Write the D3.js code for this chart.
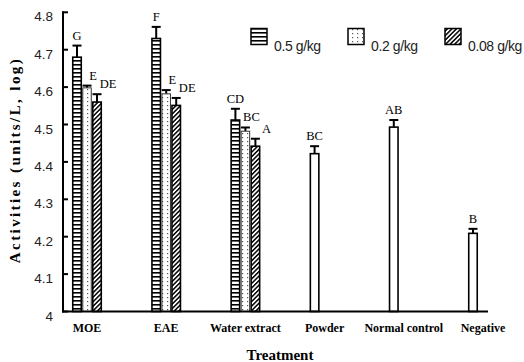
<!DOCTYPE html>
<html><head><meta charset="utf-8">
<script src="https://cdn.jsdelivr.net/npm/d3@7"></script>
<style>body{margin:0;background:#fff}svg{display:block}</style>
</head><body>
<script>
// ---- data ----
const categories = ["MOE", "EAE", "Water extract", "Powder", "Normal control", "Negative"];
const seriesNames = ["0.5 g/kg", "0.2 g/kg", "0.08 g/kg", "control"];
const values05  = [4.680, 4.730, 4.512, null, null, null];
const values02  = [4.598, 4.582, 4.482, null, null, null];
const values008 = [4.560, 4.551, 4.442, null, null, null];
const valuesSingle = [null, null, null, 4.422, 4.493, 4.209];
const err05  = [0.031, 0.031, 0.030, null, null, null];
const err02  = [0.006, 0.010, 0.010, null, null, null];
const err008 = [0.021, 0.020, 0.020, null, null, null];
const errSingle = [null, null, null, 0.020, 0.019, 0.012];
const letters05  = ["G", "F", "CD", null, null, null];
const letters02  = ["E", "E", "BC", null, null, null];
const letters008 = ["DE", "DE", "A", null, null, null];
const lettersSingle = [null, null, null, "BC", "AB", "B"];
const yTicks = [4, 4.1, 4.2, 4.3, 4.4, 4.5, 4.6, 4.7, 4.8];
const yTickLabels = ["4", "4.1", "4.2", "4.3", "4.4", "4.5", "4.6", "4.7", "4.8"];
const legendNames = ["0.5 g/kg", "0.2 g/kg", "0.08 g/kg"];

const W = 524, H = 362;
const svg = d3.select("body").append("svg").attr("width", W).attr("height", H);
const defs = svg.append("defs");

// patterns
const pStripe = defs.append("pattern").attr("id", "stripe").attr("patternUnits", "userSpaceOnUse")
  .attr("width", 10).attr("height", 4);
pStripe.append("rect").attr("width", 10).attr("height", 4).attr("fill", "#fff");
pStripe.append("rect").attr("y", 0).attr("width", 10).attr("height", 1.6).attr("fill", "#000");

const pDot = defs.append("pattern").attr("id", "dots").attr("patternUnits", "userSpaceOnUse")
  .attr("width", 5).attr("height", 4);
pDot.append("rect").attr("width", 5).attr("height", 4).attr("fill", "#fff");
pDot.append("rect").attr("x", 2).attr("y", 1).attr("width", 1.2).attr("height", 1.2).attr("fill", "#555");

const pHatch = defs.append("pattern").attr("id", "hatch").attr("patternUnits", "userSpaceOnUse")
  .attr("width", 3.2).attr("height", 3.2).attr("patternTransform", "rotate(45)");
pHatch.append("rect").attr("width", 3.2).attr("height", 3.2).attr("fill", "#fff");
pHatch.append("rect").attr("x", 0).attr("width", 1.5).attr("height", 3.2).attr("fill", "#000");

const fills = ["url(#stripe)", "url(#dots)", "url(#hatch)", "#fff"];

// scales
const x0 = 63, x1 = 488, yTop = 12.3, yBot = 311.5;
const y = d3.scaleLinear().domain([4, 4.8]).range([yBot, yTop]);
const xBand = d3.scaleBand().domain(categories).range([72, 498]).paddingInner(0.621).paddingOuter(0);
const xSlot = d3.scaleBand().domain([0, 1, 2]).range([0, xBand.bandwidth()]).padding(0);

const series = [
  {vals: values05, errs: err05, letters: letters05, slot: 0, dx: 0},
  {vals: values02, errs: err02, letters: letters02, slot: 1, dx: 6},
  {vals: values008, errs: err008, letters: letters008, slot: 2, dx: 11},
  {vals: valuesSingle, errs: errSingle, letters: lettersSingle, slot: 0, dx: 0}
];

const g = svg.append("g");
series.forEach((s, si) => {
  const data = categories.map((c, i) => ({c, v: s.vals[i], e: s.errs[i], l: s.letters[i]})).filter(d => d.v != null);
  const bw = xSlot.bandwidth();
  const gs = g.append("g");
  // error bars
  gs.selectAll("line.err").data(data).join("line")
    .attr("x1", d => xBand(d.c) + xSlot(s.slot) + bw / 2)
    .attr("x2", d => xBand(d.c) + xSlot(s.slot) + bw / 2)
    .attr("y1", d => y(d.v)).attr("y2", d => y(d.v + d.e))
    .attr("stroke", "#000").attr("stroke-width", 2);
  gs.selectAll("line.cap").data(data).join("line")
    .attr("x1", d => xBand(d.c) + xSlot(s.slot) + 0.5)
    .attr("x2", d => xBand(d.c) + xSlot(s.slot) + bw - 0.5)
    .attr("y1", d => y(d.v + d.e)).attr("y2", d => y(d.v + d.e))
    .attr("stroke", "#000").attr("stroke-width", 2);
  gs.selectAll("rect").data(data).join("rect")
    .attr("x", d => xBand(d.c) + xSlot(s.slot) + 0.75)
    .attr("y", d => y(d.v))
    .attr("width", bw - 1.5)
    .attr("height", d => yBot - y(d.v))
    .attr("fill", fills[si])
    .attr("stroke", si === 1 ? "#333" : "#000")
    .attr("stroke-width", si === 1 ? 1 : 1.6);
  gs.selectAll("text").data(data.filter(d => d.l)).join("text")
    .attr("x", d => xBand(d.c) + xSlot(s.slot) + bw / 2 + s.dx)
    .attr("y", d => y(d.v + d.e) - 6)
    .attr("text-anchor", "middle")
    .attr("font-family", "Liberation Serif, Times New Roman, serif")
    .attr("font-size", 12.5)
    .text(d => d.l);
});

// axes
const yAxis = svg.append("g");
yAxis.append("line").attr("x1", x0).attr("x2", x0).attr("y1", yTop - 1).attr("y2", yBot + 1)
  .attr("stroke", "#000").attr("stroke-width", 2);
yAxis.selectAll("line.tick").data(yTicks).join("line")
  .attr("x1", x0).attr("x2", x0 + 5)
  .attr("y1", d => y(d)).attr("y2", d => y(d))
  .attr("stroke", "#000").attr("stroke-width", 2);
yAxis.selectAll("text").data(yTicks).join("text")
  .attr("x", 53).attr("y", d => y(d) + 9)
  .attr("text-anchor", "end")
  .attr("font-family", "Liberation Sans, Arial, sans-serif")
  .attr("font-size", 13.5).attr("fill", "#222")
  .text((d, i) => yTickLabels[i]);

svg.append("line").attr("x1", x0 - 1).attr("x2", x1).attr("y1", yBot).attr("y2", yBot)
  .attr("stroke", "#000").attr("stroke-width", 2.2);

svg.append("g").selectAll("text").data(categories).join("text")
  .attr("x", d => xBand(d) + xBand.bandwidth() / 2)
  .attr("y", 332)
  .attr("text-anchor", "middle")
  .attr("font-family", "Liberation Serif, Times New Roman, serif")
  .attr("font-weight", "bold").attr("font-size", 12)
  .text(d => d);

svg.append("text").attr("x", 280).attr("y", 360).attr("text-anchor", "middle")
  .attr("font-family", "Liberation Serif, Times New Roman, serif")
  .attr("font-weight", "bold").attr("font-size", 15)
  .text("Treatment");

svg.append("text").attr("transform", "translate(20,160) rotate(-90)")
  .attr("text-anchor", "middle")
  .attr("font-family", "Liberation Serif, Times New Roman, serif")
  .attr("font-weight", "bold").attr("font-size", 15).attr("letter-spacing", 2.4)
  .text("Activities (units/L, log)");

// legend
const lg = svg.append("g");
const lx = d3.scalePoint().domain(legendNames).range([251, 445]);
legendNames.forEach((n, i) => {
  lg.append("rect").attr("x", lx(n)).attr("y", 28.5).attr("width", 16).attr("height", 16)
    .attr("fill", fills[i]).attr("stroke", "#000").attr("stroke-width", 1.5);
  lg.append("text").attr("x", lx(n) + 23).attr("y", 51)
    .attr("font-family", "Liberation Sans, Arial, sans-serif")
    .attr("font-size", 14).attr("letter-spacing", -0.4).attr("fill", "#222")
    .text(n);
});
</script>
</body></html>
